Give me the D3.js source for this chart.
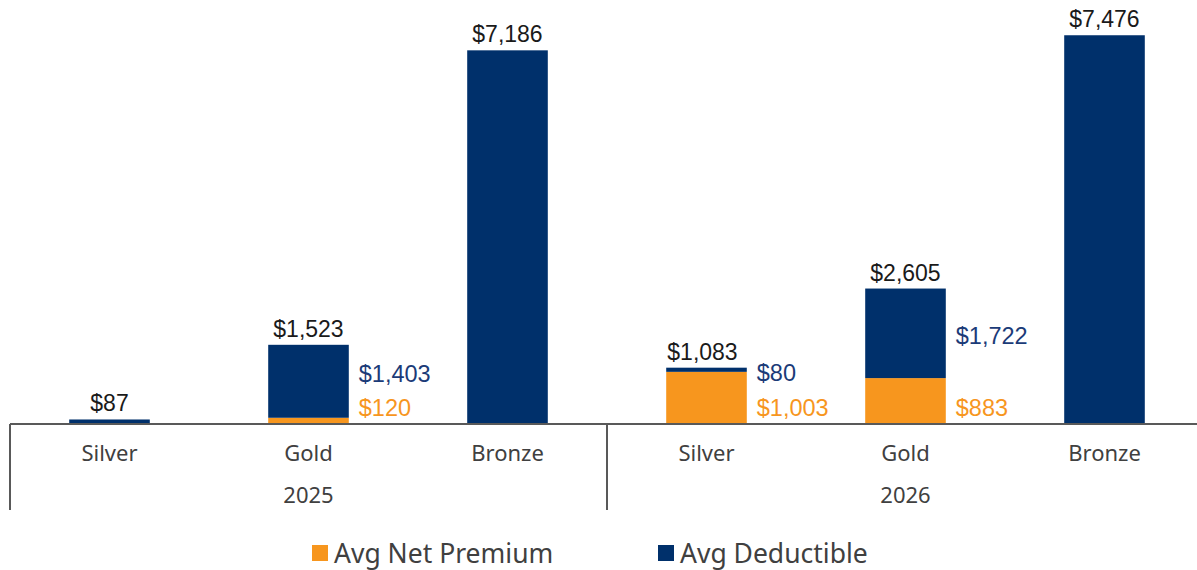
<!DOCTYPE html>
<html lang="en">
<head>
<meta charset="UTF-8">
<title>Avg Net Premium and Deductible</title>
<script src="https://d3js.org/d3.v7.min.js"></script>
<style>
  body { margin: 0; background: #fff; }
  text { font-family: 'Liberation Sans', Arial, sans-serif; }
  .cat { font-family: 'Noto Sans', sans-serif; fill: #404040; }
</style>
</head>
<body>
<script>
// data
const years = ["2025", "2026"];
const tiers = ["Silver", "Gold", "Bronze"];
const premium = [0, 120, 0, 1003, 883, 0];
const deductible = [87, 1403, 7186, 80, 1722, 7476];
const seriesNames = ["Avg Net Premium", "Avg Deductible"];
const colors = ["#F7961E", "#00306B"];
const labelColors = ["#F7961E", "#1B3B78"];

const width = 1197, height = 570;
const base = 424;

const rows = [];
years.forEach((yr, gi) => tiers.forEach((t, ti) => {
  const i = gi * tiers.length + ti;
  rows.push({ key: yr + "-" + t, year: yr, tier: t, premium: premium[i], deductible: deductible[i] });
}));

const svg = d3.select("body").append("svg")
  .attr("width", width).attr("height", height);

const x = d3.scaleBand()
  .domain(rows.map(d => d.key))
  .range([10, 1204])
  .paddingInner(0.595)
  .paddingOuter(0.2975);

const y = d3.scaleLinear().domain([0, 8000]).range([base, 8]);

const stacked = d3.stack().keys(["premium", "deductible"])(rows);

// bars
stacked.forEach((layer, li) => {
  svg.append("g").selectAll("rect")
    .data(layer)
    .join("rect")
    .attr("x", d => x(d.data.key))
    .attr("width", x.bandwidth())
    .attr("y", d => y(d[1]))
    .attr("height", d => y(d[0]) - y(d[1]))
    .attr("fill", colors[li]);
});

const fmt = v => "$" + d3.format(",")(v);

// total labels
svg.append("g").selectAll("text")
  .data(rows)
  .join("text")
  .attr("x", d => x(d.key) + x.bandwidth() / 2 - (d.premium > 0 && d.deductible < 200 ? 4 : 0))
  .attr("y", d => y(d.premium + d.deductible) - 8)
  .attr("text-anchor", "middle")
  .attr("fill", "#1a1a1a")
  .style("font-size", "23px")
  .text(d => fmt(d.premium + d.deductible));

// side labels for the stacked bars
const split = rows.filter(d => d.premium > 0);
split.forEach(d => {
  const lx = x(d.key) + x.bandwidth() + 10;
  const py = base - 16;
  const dy = Math.min((y(d.premium) + y(d.premium + d.deductible)) / 2 + 3, py - 34);
  svg.append("text")
    .attr("x", lx).attr("y", py)
    .attr("dominant-baseline", "central")
    .attr("fill", labelColors[0])
    .style("font-size", "23.5px")
    .text(fmt(d.premium));
  svg.append("text")
    .attr("x", lx).attr("y", dy)
    .attr("dominant-baseline", "central")
    .attr("fill", labelColors[1])
    .style("font-size", "23.5px")
    .text(fmt(d.deductible));
});

// axis line and group separators
svg.append("line")
  .attr("x1", 10).attr("x2", width).attr("y1", base).attr("y2", base)
  .attr("stroke", "#595959").attr("stroke-width", 2);

const step = x.step();
d3.range(years.length).forEach(gi => {
  const gx = 10 + gi * step * tiers.length;
  svg.append("line")
    .attr("x1", gx).attr("x2", gx).attr("y1", base).attr("y2", 510)
    .attr("stroke", "#595959").attr("stroke-width", 2);
});

// category labels
svg.append("g").selectAll("text")
  .data(rows)
  .join("text")
  .attr("class", "cat")
  .attr("x", d => x(d.key) + x.bandwidth() / 2)
  .attr("y", 461)
  .attr("text-anchor", "middle")
  .style("font-size", "22px")
  .text(d => d.tier);

// year labels
svg.append("g").selectAll("text")
  .data(years)
  .join("text")
  .attr("class", "cat")
  .attr("x", (d, gi) => 10 + (gi + 0.5) * step * tiers.length)
  .attr("y", 503)
  .attr("text-anchor", "middle")
  .style("font-size", "22px")
  .text(d => d);

// legend
const legendX = [312, 658];
seriesNames.forEach((name, i) => {
  const g = svg.append("g").attr("transform", `translate(${legendX[i]},545)`);
  g.append("rect").attr("width", 16).attr("height", 16).attr("fill", colors[i]);
  g.append("text")
    .attr("class", "cat")
    .attr("x", 22).attr("y", 8)
    .attr("dominant-baseline", "central")
    .style("font-size", "26.5px")
    .text(name);
});
</script>
</body>
</html>
